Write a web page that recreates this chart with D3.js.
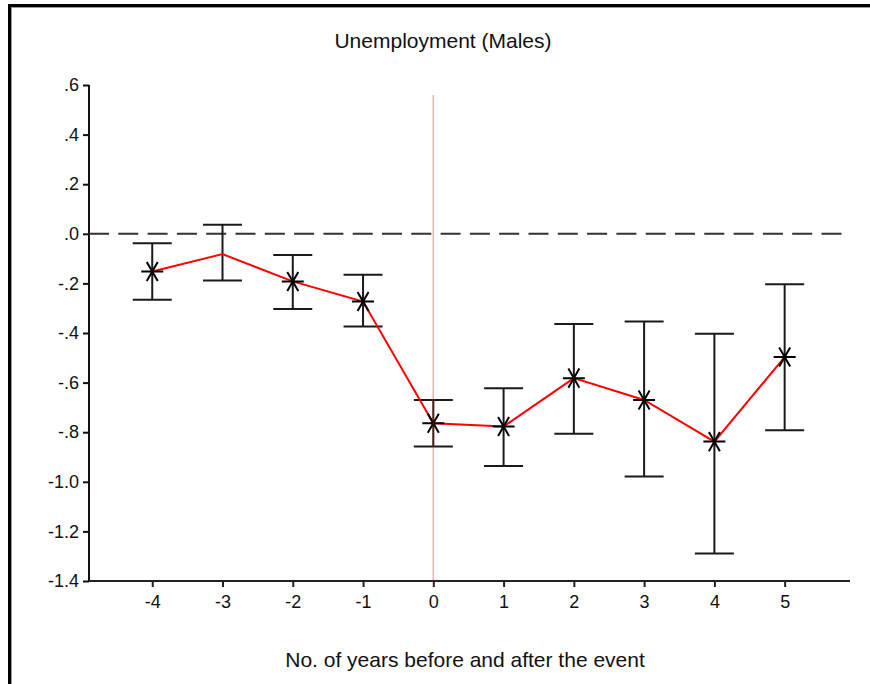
<!DOCTYPE html>
<html>
<head>
<meta charset="utf-8">
<script src="https://cdn.jsdelivr.net/npm/d3@7"></script>
<style>
  html, body { margin: 0; padding: 0; background: #fff; }
  svg { display: block; }
  text { font-family: "Liberation Sans", Arial, sans-serif; fill: #111; }
</style>
</head>
<body>
<svg id="chart" width="870" height="684"></svg>
<script>
// Event-study estimates: years relative to the event, point estimate and 95% CI bounds
const years    = [-4, -3, -2, -1, 0, 1, 2, 3, 4, 5];
const estimate = [-0.152, -0.082, -0.192, -0.273, -0.764, -0.777, -0.582, -0.670, -0.838, -0.497];
const ciLower  = [-0.266, -0.188, -0.303, -0.374, -0.858, -0.936, -0.806, -0.979, -1.289, -0.792];
const ciUpper  = [-0.038,  0.036, -0.085, -0.165, -0.670, -0.623, -0.364, -0.354, -0.403, -0.203];
const starShown = [true, false, true, true, true, true, true, true, true, true];
const yTicks   = [0.6, 0.4, 0.2, 0.0, -0.2, -0.4, -0.6, -0.8, -1.0, -1.2, -1.4];
const xTicks   = years;
const titleText  = "Unemployment (Males)";
const xAxisTitle = "No. of years before and after the event";

const svg = d3.select("#chart");

// Outer frame (top and left edges)
svg.append("line").attr("x1", 8).attr("x2", 870).attr("y1", 7.5).attr("y2", 7.5)
  .attr("stroke", "#999").attr("stroke-width", 1);
svg.append("line").attr("x1", 11.5).attr("x2", 11.5).attr("y1", 7).attr("y2", 684)
  .attr("stroke", "#999").attr("stroke-width", 1);
svg.append("line").attr("x1", 8).attr("x2", 870).attr("y1", 5.5).attr("y2", 5.5)
  .attr("stroke", "#000").attr("stroke-width", 3);
svg.append("line").attr("x1", 9.5).attr("x2", 9.5).attr("y1", 4).attr("y2", 684)
  .attr("stroke", "#000").attr("stroke-width", 3);

const x = d3.scaleLinear().domain([-4.9, 5.93]).range([89, 850]);
const y = d3.scaleLinear().domain([-1.4, 0.6]).range([581, 85]);

// Labels like ".6", "-.2", "-1.0" with a plain hyphen for the sign
const fmtY = v => {
  const s = Math.abs(v).toFixed(1).replace(/^0\./, ".");
  return (v < -1e-9 ? "-" : "") + s;
};
const fmtX = v => (v < 0 ? "-" : "") + Math.abs(v);

// Title
svg.append("text").attr("x", 443).attr("y", 48).attr("text-anchor", "middle")
  .attr("font-size", 21).text(titleText);

// X axis title
svg.append("text").attr("x", 465).attr("y", 667).attr("text-anchor", "middle")
  .attr("font-size", 21).text(xAxisTitle);

// Y axis
const yAxis = d3.axisLeft(y).tickValues(yTicks).tickFormat(fmtY).tickSize(6).tickPadding(4);
const gy = svg.append("g").attr("transform", "translate(89,0)").call(yAxis);
gy.select(".domain").attr("stroke", "#111").attr("stroke-width", 2)
  .attr("d", `M0,${y(0.6)}V${y(-1.4)}`);
gy.selectAll(".tick line").attr("stroke", "#111").attr("stroke-width", 2);
gy.selectAll(".tick text").attr("font-size", 18).attr("font-family", "Liberation Sans, Arial, sans-serif").attr("fill", "#111");

// X axis
const xAxis = d3.axisBottom(x).tickValues(xTicks).tickFormat(fmtX).tickSize(6).tickPadding(8);
const gx = svg.append("g").attr("transform", `translate(0,${y(-1.4)})`).call(xAxis);
gx.select(".domain").attr("stroke", "#222").attr("stroke-width", 2)
  .attr("d", `M${x(-4.9)},0H${x(5.93)}`);
gx.selectAll(".tick line").attr("stroke", "#222").attr("stroke-width", 2);
gx.selectAll(".tick text").attr("font-size", 18).attr("font-family", "Liberation Sans, Arial, sans-serif").attr("fill", "#111");

// Zero reference line
svg.append("line")
  .attr("x1", x(-4.9)).attr("x2", x(5.93)).attr("y1", y(0)).attr("y2", y(0))
  .attr("stroke", "#333").attr("stroke-width", 2).attr("stroke-dasharray", "20,9.3");

const data = years.map((yr, i) => ({
  yr, est: estimate[i], lo: ciLower[i], hi: ciUpper[i], star: starShown[i]
}));

// Confidence intervals
const capHalf = 19.5;
const eb = svg.append("g").attr("stroke", "#1a1a1a").attr("stroke-width", 2).attr("fill", "none");
eb.selectAll("line.v").data(data).join("line").attr("class", "v")
  .attr("x1", d => x(d.yr)).attr("x2", d => x(d.yr))
  .attr("y1", d => y(d.hi)).attr("y2", d => y(d.lo));
eb.selectAll("line.top").data(data).join("line").attr("class", "top")
  .attr("x1", d => x(d.yr) - capHalf).attr("x2", d => x(d.yr) + capHalf)
  .attr("y1", d => y(d.hi)).attr("y2", d => y(d.hi));
eb.selectAll("line.bot").data(data).join("line").attr("class", "bot")
  .attr("x1", d => x(d.yr) - capHalf).attr("x2", d => x(d.yr) + capHalf)
  .attr("y1", d => y(d.lo)).attr("y2", d => y(d.lo));

// Estimate line
svg.append("path").datum(data)
  .attr("fill", "none").attr("stroke", "#ff0000").attr("stroke-width", 2)
  .attr("d", d3.line().x(d => x(d.yr)).y(d => y(d.est)));

// Asterisk markers
const r = 11;
const starPath = [0, 60, 120].map(a => {
  const rad = a * Math.PI / 180;
  const dx = r * Math.cos(rad), dy = r * Math.sin(rad);
  return `M${-dx},${-dy}L${dx},${dy}`;
}).join("");
svg.append("g").selectAll("path").data(data.filter(d => d.star)).join("path")
  .attr("transform", d => `translate(${x(d.yr)},${y(d.est)})`)
  .attr("d", starPath).attr("stroke", "#000").attr("stroke-width", 2).attr("fill", "none");

// Event marker at year 0
svg.append("line")
  .attr("x1", x(0)).attr("x2", x(0)).attr("y1", y(0.56)).attr("y2", y(-1.4))
  .attr("stroke", "#ff0000").attr("stroke-opacity", 0.35).attr("stroke-width", 1.5);
</script>
</body>
</html>
